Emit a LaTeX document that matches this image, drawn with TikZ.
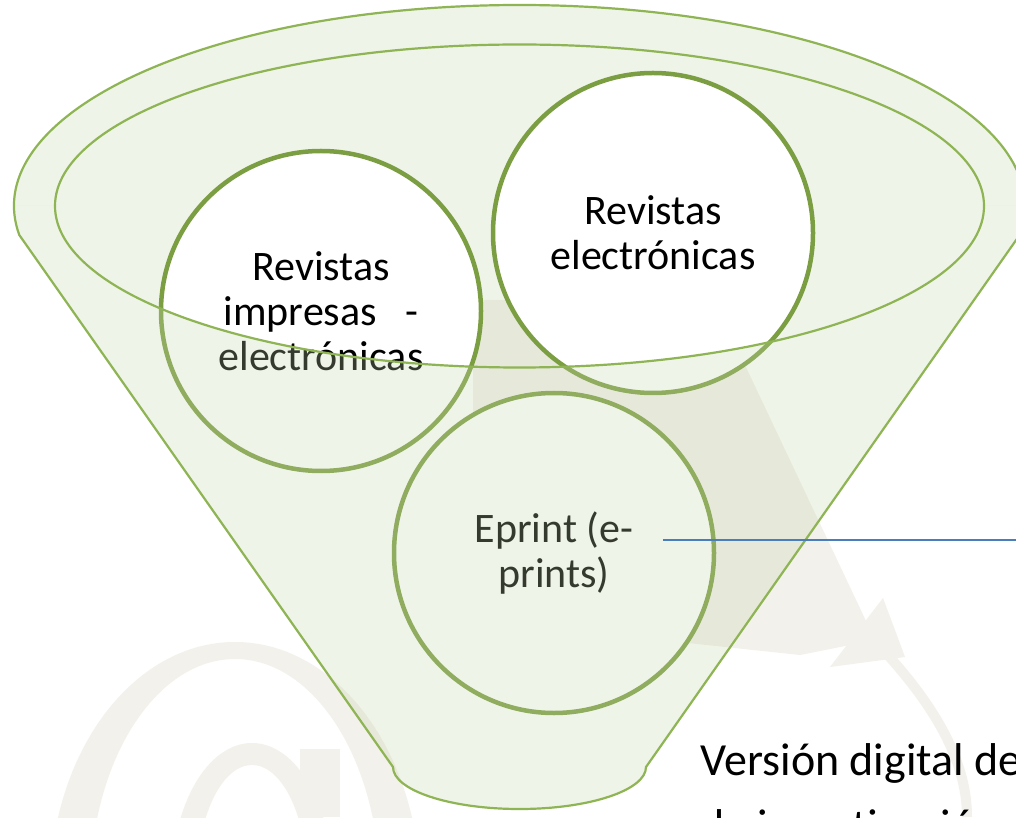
\documentclass[tikz,border=0pt]{standalone}
\usepackage{fontspec}
\setmainfont{Carlito}
\usetikzlibrary{positioning}

\definecolor{funnelgreen}{HTML}{8EB453}
\definecolor{ringgreen}{HTML}{7C9E42}
\definecolor{tint}{HTML}{C6D7AF}
\definecolor{wmark}{HTML}{F3F1EB}
\definecolor{linkblue}{HTML}{4A7EBB}

\begin{document}
\begin{tikzpicture}[
  x=1pt, y=1pt,
  topic/.style={draw=ringgreen,circle,line width=4.5,fill=white,minimum size=320,align=center,font=\fontsize{42}{45}\selectfont},
  glass/.style={fill=tint,fill opacity=0.27},
  rim/.style={draw=funnelgreen,line width=2.2},
  wm/.style={fill=wmark}
]
\useasboundingbox (0,0) rectangle (1016,817);
\clip (0,0) rectangle (1016,817);
\fill[white] (0,0) rectangle (1016,817);

% watermark in the background
\fill[wm,even odd rule] (235,-73) ellipse [x radius=185,y radius=248] (235,-73) ellipse [x radius=145,y radius=231];
\fill[wm,even odd rule] (252,-63) ellipse [x radius=80,y radius=137] (252,-63) ellipse [x radius=55,y radius=115];
\fill[wm] (300,0) rectangle (340,68);
\fill[wm] (473,517) -- (560,517) -- (745,452) -- (875,177) -- (800,162) -- (473,197) -- cycle;
\fill[wm] (883,219) -- (905,160) -- (830,150) -- cycle;
\draw[wmark,line width=10] (867,184) .. controls (930,120) and (967,60) .. (967,0);

% funnel, back part
\path[glass] (14,611) arc[start angle=180,end angle=0,x radius=505.5,y radius=201] -- (984,611)
  arc[start angle=0,end angle=-180,x radius=464.5,y radius=161.5] -- cycle;

\node[topic] (print) at (321,506) {Revistas\\impresas~~~-\\electrónicas};
\node[topic] (online) at (653,584) {Revistas\\electrónicas};
\node[topic] (eprint) at (554,264) {Eprint (e-\\prints)};

% funnel, front part
\path[glass] (14,611) -- (55,611) arc[start angle=180,end angle=360,x radius=464.5,y radius=161.5]
  -- (1025,611) arc[start angle=0,end angle=-8.3,x radius=505.5,y radius=201]
  -- (646,50) arc[start angle=0,end angle=-180,x radius=126.5,y radius=42]
  -- (19.3,582) arc[start angle=188.3,end angle=180,x radius=505.5,y radius=201] -- cycle;

\draw[rim] (19.3,582) arc[start angle=188.3,end angle=-8.3,x radius=505.5,y radius=201]
  -- (646,50) arc[start angle=0,end angle=-180,x radius=126.5,y radius=42] -- cycle;
\draw[rim] (519.5,611) ellipse [x radius=464.5,y radius=161.5];

\coordinate (epout) at ([xshift=109,yshift=13]eprint.center);
\coordinate (rightedge) at (1016,277);
\draw[linkblue,line width=2.5] (epout) -- (rightedge);

\node[anchor=base west,align=left,font=\fontsize{46}{66}\selectfont] (desc) at (697,-24) {Versión digital de\\de investigación};
\end{tikzpicture}
\end{document}
